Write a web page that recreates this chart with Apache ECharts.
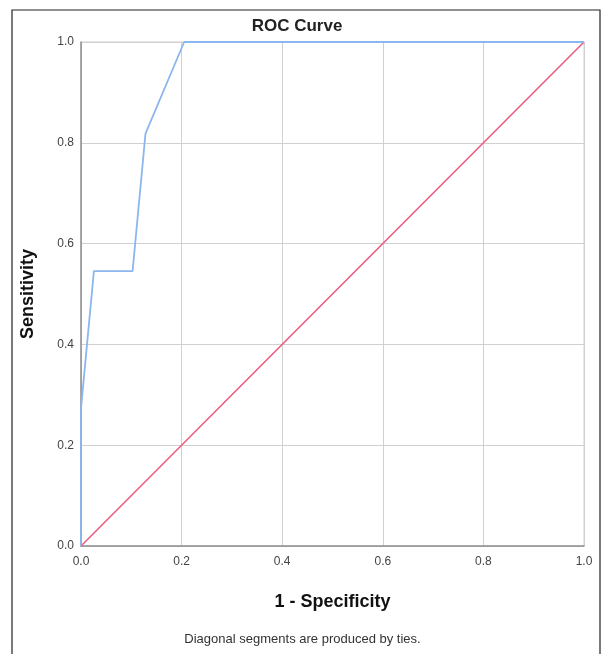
<!DOCTYPE html>
<html><head><meta charset="utf-8">
<script src="https://cdn.jsdelivr.net/npm/echarts@6/dist/echarts.min.js"></script>
<style>html,body{margin:0;padding:0;background:#fff}#c{width:605px;height:654px}</style>
</head><body><div id="c"></div>
<script>
const rocX = [0, 0, 1/39, 4/39, 5/39, 8/39, 1];
const rocY = [0, 3/11, 6/11, 6/11, 9/11, 1, 1];
const refX = [0, 1];
const refY = [0, 1];
const ticks = [0, 0.2, 0.4, 0.6, 0.8, 1.0];

const chart = echarts.init(document.getElementById('c'), null, {renderer: 'canvas'});
const font = 'Liberation Sans, Arial, sans-serif';
chart.setOption({
  animation: false,
  title: {text: 'ROC Curve', left: 292, top: 13, textAlign: 'center',
    textStyle: {fontFamily: font, fontSize: 17, fontWeight: 'bold', color: '#222'}},
  grid: {left: 81, right: 21, top: 42, bottom: 108},
  xAxis: {type: 'value', min: 0, max: 1, interval: 0.2,
    name: '1 - Specificity', nameLocation: 'middle', nameGap: 47,
    nameTextStyle: {fontFamily: font, fontSize: 18, fontWeight: 'bold', color: '#111'},
    axisLine: {show: true, lineStyle: {color: '#8c8c8c', width: 1.5}},
    axisTick: {show: false},
    axisLabel: {fontFamily: font, fontSize: 12, color: '#444', margin: 10, formatter: v => v.toFixed(1)},
    splitLine: {show: true, lineStyle: {color: '#d0d0d0', width: 1}}
  },
  yAxis: {type: 'value', min: 0, max: 1, interval: 0.2,
    name: 'Sensitivity', nameLocation: 'middle', nameGap: 44,
    nameTextStyle: {fontFamily: font, fontSize: 18, fontWeight: 'bold', color: '#111'},
    axisLine: {show: true, lineStyle: {color: '#8c8c8c', width: 1.5}},
    axisTick: {show: false},
    axisLabel: {fontFamily: font, fontSize: 12, color: '#444', margin: 7, formatter: v => v.toFixed(1)},
    splitLine: {show: true, lineStyle: {color: '#d0d0d0', width: 1}}
  },
  graphic: [
    {type: 'rect', shape: {x: 12, y: 10, width: 588, height: 660}, style: {fill: 'none', stroke: '#222', lineWidth: 1.2}, z: 100},
    {type: 'line', shape: {x1: 584, y1: 42, x2: 584, y2: 546}, style: {stroke: '#d0d0d0', lineWidth: 1}},
    {type: 'line', shape: {x1: 81, y1: 42, x2: 584, y2: 42}, style: {stroke: '#d0d0d0', lineWidth: 1}},
    {type: 'text', left: 'center', top: 633, style: {text: 'Diagonal segments are produced by ties.', fontFamily: font, fontSize: 13, fill: '#333'}}
  ],
  series: [
    {type: 'line', data: refX.map((x, i) => [x, refY[i]]), symbol: 'none',
      lineStyle: {color: '#ec5c7e', width: 1.6}, z: 2},
    {type: 'line', data: rocX.map((x, i) => [x, rocY[i]]), symbol: 'none',
      lineStyle: {color: '#8cb6ee', width: 1.8}, z: 3}
  ]
});
</script></body></html>
